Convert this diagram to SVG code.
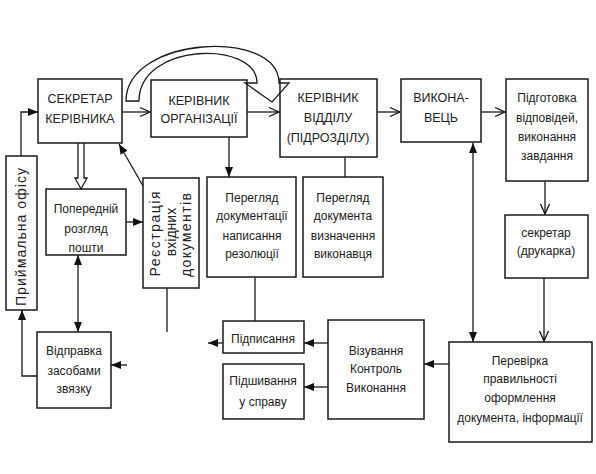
<svg xmlns="http://www.w3.org/2000/svg" width="596" height="474" viewBox="0 0 596 474">
<style>
.b{fill:none;stroke:#1a1a1a;stroke-width:1.5}
.c{fill:none;stroke:#1a1a1a;stroke-width:1.3}
text{font-family:"Liberation Sans",Arial,sans-serif;fill:#222;text-anchor:middle}
.t{font-size:12px}
.u{font-size:12.5px}
.r{font-size:14px}
</style>
<defs>
<marker id="af" viewBox="0 0 10 8" refX="10" refY="4" markerWidth="10" markerHeight="8" orient="auto-start-reverse" markerUnits="userSpaceOnUse"><path d="M0,0 L10,4 L0,8 Z" fill="#111"/></marker>
<marker id="av" viewBox="0 0 12 12" refX="11" refY="6" markerWidth="12" markerHeight="12" orient="auto" markerUnits="userSpaceOnUse"><path d="M1,1.5 L11,6 L1,10.5" fill="none" stroke="#111" stroke-width="1.3"/></marker>
</defs>
<rect width="596" height="474" fill="#fff"/>

<g id="connectors">
<path class="c" d="M122,112 H150" marker-end="url(#av)"/>
<path class="c" d="M247,112 H279" marker-end="url(#av)"/>
<path class="c" d="M377,112 H400" marker-end="url(#av)"/>
<path class="c" d="M481,112 H505" marker-end="url(#av)"/>
<path class="c" d="M545,181 V214" marker-end="url(#av)"/>
<path class="c" d="M544,278 V341" marker-end="url(#av)"/>
<path class="c" d="M473,143 V342" marker-start="url(#af)" marker-end="url(#af)"/>
<path class="c" d="M229,137 V177" marker-end="url(#af)"/>
<path class="c" d="M345,157 V177"/>
<path class="c" d="M255,277 V321"/>
<path class="c" d="M143,186 L119,144" marker-end="url(#af)"/>
<path class="c" d="M78,143 V178 H75 L81,189 L87,178 H84 V143" fill="#fff"/>
<path class="c" d="M21,156 V112 H38" marker-end="url(#af)"/>
<path class="c" d="M126,222 H143" marker-end="url(#af)"/>
<path class="c" d="M78,255 V332" marker-start="url(#af)" marker-end="url(#af)"/>
<path class="c" d="M37,376 H22 V310" marker-end="url(#af)"/>
<path class="c" d="M127,365 H111" marker-end="url(#af)"/>
<path class="c" d="M167,288 V332"/>
<path class="c" d="M223,343 H208" marker-end="url(#af)"/>
<path class="c" d="M328,343 H304" marker-end="url(#af)"/>
<path class="c" d="M328,387 H304" marker-end="url(#af)"/>
<path class="c" d="M449,364 H424" marker-end="url(#af)"/>
<path class="c" d="M126,101 C126,36 279,28 279,83 L289,83 L272,102 L245,83 L257,83 C257,40 139,42 139,101 Z"/>
</g>

<g id="n-sekretar">
<rect class="b" x="38" y="79" width="84" height="64"/>
<text class="u" x="80" y="103">СЕКРЕТАР</text>
<text class="u" x="80" y="123">КЕРІВНИКА</text>
</g>
<g id="n-kerivnyk-org">
<rect class="b" x="151" y="80" width="96" height="57"/>
<text class="u" x="199" y="105">КЕРІВНИК</text>
<text class="u" x="199" y="123">ОРГАНІЗАЦІЇ</text>
</g>
<g id="n-kerivnyk-viddilu">
<rect class="b" x="280" y="79" width="97" height="78"/>
<text class="u" x="328" y="102">КЕРІВНИК</text>
<text class="u" x="328" y="122">ВІДДІЛУ</text>
<text class="u" x="328" y="142">(ПІДРОЗДІЛУ)</text>
</g>
<g id="n-vykonavets">
<rect class="b" x="401" y="79" width="80" height="63"/>
<text class="u" x="441" y="102">ВИКОНА-</text>
<text class="u" x="441" y="122">ВЕЦЬ</text>
</g>
<g id="n-pidgotovka">
<rect class="b" x="506" y="79" width="82" height="102"/>
<text class="t" x="547" y="102">Підготовка</text>
<text class="t" x="547" y="122">відповідей,</text>
<text class="t" x="547" y="141">виконання</text>
<text class="t" x="547" y="160">завдання</text>
</g>
<g id="n-pryimalna">
<rect class="b" x="6" y="156" width="31" height="154"/>
<text class="r" transform="translate(26,237) rotate(-90)" textLength="138">Приймальна офісу</text>
</g>
<g id="n-poperednii">
<rect class="b" x="46" y="189" width="80" height="66"/>
<text class="t" x="86" y="213">Попередній</text>
<text class="t" x="86" y="233">розгляд</text>
<text class="t" x="86" y="252">пошти</text>
</g>
<g id="n-reiestratsiia">
<rect class="b" x="143" y="178" width="56" height="110"/>
<text class="r" transform="translate(160,234) rotate(-90)" textLength="85">Реєстрація</text>
<text class="r" transform="translate(175.5,232) rotate(-90)">вхідних</text>
<text class="r" transform="translate(191,235) rotate(-90)" textLength="84">документів</text>
</g>
<g id="n-pereglyad-dok">
<rect class="b" x="207" y="177" width="89" height="100"/>
<text class="t" x="252" y="202">Перегляд</text>
<text class="t" x="252" y="220">документації</text>
<text class="t" x="252" y="240">написання</text>
<text class="t" x="252" y="258">резолюції</text>
</g>
<g id="n-pereglyad-vyk">
<rect class="b" x="303" y="177" width="80" height="100"/>
<text class="t" x="343" y="202">Перегляд</text>
<text class="t" x="343" y="220">документа</text>
<text class="t" x="343" y="240">визначення</text>
<text class="t" x="343" y="258">виконавця</text>
</g>
<g id="n-sekretar-drukarka">
<rect class="b" x="505" y="215" width="83" height="63"/>
<text class="t" x="546" y="237">секретар</text>
<text class="t" x="546" y="255">(друкарка)</text>
</g>
<g id="n-vidpravka">
<rect class="b" x="37" y="332" width="74" height="76"/>
<text class="t" x="74" y="355">Відправка</text>
<text class="t" x="74" y="375">засобами</text>
<text class="t" x="74" y="393">звязку</text>
</g>
<g id="n-pidpysannia">
<rect class="b" x="223" y="321" width="81" height="32"/>
<text class="t" x="263" y="343">Підписання</text>
</g>
<g id="n-pidshyvannia">
<rect class="b" x="223" y="364" width="81" height="55"/>
<text class="t" x="263" y="385">Підшивання</text>
<text class="t" x="263" y="406">у справу</text>
</g>
<g id="n-vizuvannia">
<rect class="b" x="328" y="320" width="96" height="99"/>
<text class="t" x="376" y="355">Візування</text>
<text class="t" x="376" y="373">Контроль</text>
<text class="t" x="376" y="392">Виконання</text>
</g>
<g id="n-perevirka">
<rect class="b" x="449" y="342" width="143" height="100"/>
<text class="t" x="520" y="365">Перевірка</text>
<text class="t" x="520" y="383">правильності</text>
<text class="t" x="520" y="402">оформлення</text>
<text class="t" x="520" y="422">документа, інформації</text>
</g>
</svg>
